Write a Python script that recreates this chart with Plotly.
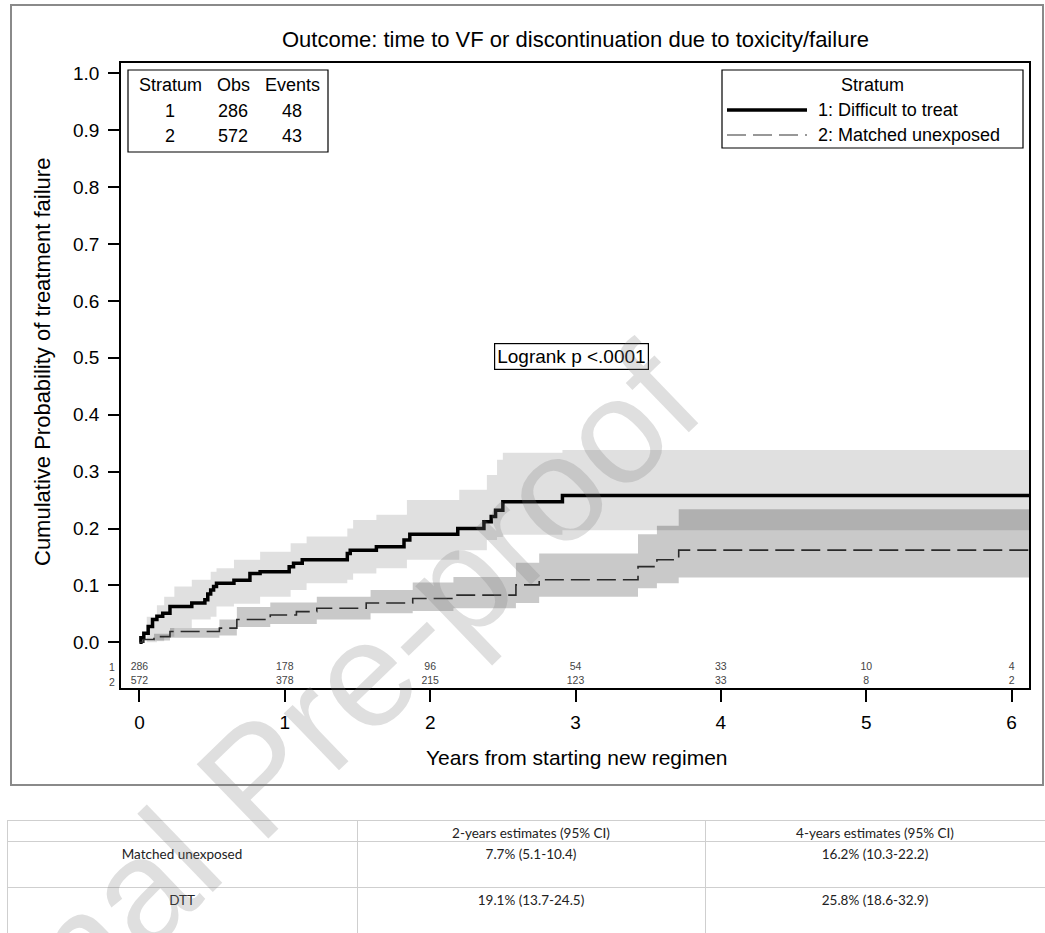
import plotly.graph_objects as go

# ---------------- data ----------------
# Stratum 1: Difficult to treat (cumulative probability of failure, step function)
g1_t = [0, 0.01, 0.03, 0.06, 0.09, 0.12, 0.16, 0.21, 0.36, 0.45, 0.47, 0.49, 0.51, 0.53,
        0.65, 0.76, 0.83, 1.03, 1.06, 1.12, 1.43, 1.45, 1.63, 1.82, 1.86, 2.19, 2.37,
        2.42, 2.45, 2.5, 2.91, 6.12]
g1_v = [0, 0.008, 0.016, 0.028, 0.040, 0.046, 0.051, 0.063, 0.069, 0.075, 0.085, 0.092,
        0.098, 0.104, 0.109, 0.121, 0.124, 0.133, 0.139, 0.145, 0.156, 0.162, 0.168,
        0.180, 0.190, 0.200, 0.212, 0.221, 0.232, 0.247, 0.258, 0.258]
g1_ci_t = [0, 0.05, 0.12, 0.17, 0.24, 0.36, 0.49, 0.53, 0.65, 0.83, 1.04, 1.15, 1.43,
           1.47, 1.63, 1.84, 2.2, 2.39, 2.46, 2.5, 2.91, 6.12]
g1_ci_hi = [0, 0.045, 0.065, 0.080, 0.098, 0.110, 0.124, 0.130, 0.145, 0.159, 0.174,
            0.186, 0.200, 0.215, 0.224, 0.250, 0.268, 0.294, 0.321, 0.333, 0.338, 0.338]
g1_ci_lo = [0, 0, 0.002, 0.010, 0.025, 0.040, 0.045, 0.063, 0.068, 0.080, 0.092, 0.104,
            0.110, 0.121, 0.130, 0.145, 0.162, 0.180, 0.185, 0.189, 0.197, 0.197]

# Stratum 2: Matched unexposed
g2_t = [0, 0.03, 0.1, 0.21, 0.55, 0.67, 0.9, 1.08, 1.22, 1.56, 1.88, 2.16, 2.59, 2.75,
        3.43, 3.56, 3.71, 6.12]
g2_v = [0, 0.005, 0.010, 0.019, 0.025, 0.040, 0.048, 0.054, 0.060, 0.069, 0.077, 0.083,
        0.101, 0.110, 0.133, 0.145, 0.162, 0.162]
g2_ci_t = [0, 0.1, 0.21, 0.55, 0.67, 0.9, 1.22, 1.59, 1.88, 2.16, 2.59, 2.75, 3.43, 3.56,
           3.71, 6.12]
g2_ci_hi = [0, 0.015, 0.025, 0.040, 0.062, 0.070, 0.080, 0.092, 0.105, 0.115, 0.140,
            0.156, 0.190, 0.205, 0.234, 0.234]
g2_ci_lo = [0, 0.003, 0.008, 0.012, 0.027, 0.032, 0.040, 0.051, 0.055, 0.060, 0.069,
            0.080, 0.095, 0.104, 0.114, 0.114]

# numbers at risk
risk_times = [0, 1, 2, 3, 4, 5, 6]
risk_g1 = [286, 178, 96, 54, 33, 10, 4]
risk_g2 = [572, 378, 215, 123, 33, 8, 2]

# summary inset
strata = ["1", "2"]
obs = [286, 572]
events = [48, 43]
legend_labels = ["1: Difficult to treat", "2: Matched unexposed"]

x_ticks = [0, 1, 2, 3, 4, 5, 6]
y_ticks = [0, 0.1, 0.2, 0.3, 0.4, 0.5, 0.6, 0.7, 0.8, 0.9, 1.0]

# estimate table
tbl_header = ["", "2-years estimates (95% CI)", "4-years estimates (95% CI)"]
tbl_groups = ["Matched unexposed", "DTT"]
tbl_2y = ["7.7% (5.1-10.4)", "19.1% (13.7-24.5)"]
tbl_4y = ["16.2% (10.3-22.2)", "25.8% (18.6-32.9)"]

# ---------------- layout helpers ----------------
W, H = 1045, 933
def px(x):
    return x / W
def py(y):
    return 1 - y / H

FONT = "Liberation Sans, Arial, sans-serif"
TFONT = "Lato, sans-serif"

fig = go.Figure()

# CI bands
fig.add_trace(go.Scatter(x=g1_ci_t, y=g1_ci_hi, mode="lines", line=dict(width=0, shape="hv"),
                         showlegend=False, hoverinfo="skip"))
fig.add_trace(go.Scatter(x=g1_ci_t, y=g1_ci_lo, mode="lines", line=dict(width=0, shape="hv"),
                         fill="tonexty", fillcolor="rgba(0,0,0,0.12)",
                         showlegend=False, hoverinfo="skip"))
fig.add_trace(go.Scatter(x=g2_ci_t, y=g2_ci_hi, mode="lines", line=dict(width=0, shape="hv"),
                         showlegend=False, hoverinfo="skip"))
fig.add_trace(go.Scatter(x=g2_ci_t, y=g2_ci_lo, mode="lines", line=dict(width=0, shape="hv"),
                         fill="tonexty", fillcolor="rgba(0,0,0,0.21)",
                         showlegend=False, hoverinfo="skip"))

# curves
fig.add_trace(go.Scatter(x=g1_t, y=g1_v, mode="lines", name=legend_labels[0],
                         line=dict(color="black", width=3.5, shape="hv"), showlegend=False))
fig.add_trace(go.Scatter(x=g2_t, y=g2_v, mode="lines", name=legend_labels[1],
                         line=dict(color="#2a2a2a", width=1.6, shape="hv", dash="19px,7px"),
                         showlegend=False))

# numbers at risk
fig.add_trace(go.Scatter(x=risk_times, y=[-0.044] * len(risk_times), mode="text",
                         text=[str(v) for v in risk_g1], textposition="middle center",
                         textfont=dict(size=10.5, color="#444", family=FONT),
                         cliponaxis=False, showlegend=False, hoverinfo="skip"))
fig.add_trace(go.Scatter(x=risk_times, y=[-0.069] * len(risk_times), mode="text",
                         text=[str(v) for v in risk_g2], textposition="middle center",
                         textfont=dict(size=10.5, color="#444", family=FONT),
                         cliponaxis=False, showlegend=False, hoverinfo="skip"))

# estimates table
fig.add_trace(go.Table(
    domain=dict(x=[px(7), 1.0], y=[0.0, py(820)]),
    columnwidth=[350, 348, 340],
    header=dict(values=tbl_header, height=21, align="center",
                line=dict(color="#cfcfcf", width=1), fill=dict(color="white"),
                font=dict(family=TFONT, size=13.5, color="#222")),
    cells=dict(values=[tbl_groups, tbl_2y, tbl_4y], height=46, align="center",
               line=dict(color="#cfcfcf", width=1), fill=dict(color="white"),
               font=dict(family=TFONT, size=13.5, color="#222")),
))

annotations = []
# title
annotations.append(dict(text="Outcome: time to VF or discontinuation due to toxicity/failure",
                        x=px(575), y=py(40), xref="paper", yref="paper", showarrow=False,
                        font=dict(size=22, family=FONT, color="black"),
                        xanchor="center", yanchor="middle"))
# axis titles
annotations.append(dict(text="Years from starting new regimen", x=px(577), y=py(757),
                        xref="paper", yref="paper", showarrow=False,
                        font=dict(size=21, family=FONT, color="black"),
                        xanchor="center", yanchor="middle"))
annotations.append(dict(text="Cumulative Probability of treatment failure", x=px(42), y=py(362),
                        xref="paper", yref="paper", showarrow=False, textangle=-90,
                        font=dict(size=22, family=FONT, color="black"),
                        xanchor="center", yanchor="middle"))
# at-risk row labels
for lbl, yy in zip(strata, [667, 682]):
    annotations.append(dict(text=lbl, x=px(112), y=py(yy), xref="paper", yref="paper",
                            showarrow=False, font=dict(size=10.5, family=FONT, color="#444"),
                            xanchor="center", yanchor="middle"))
# summary inset
cols_x = [170, 233, 292]
for cx, head in zip(cols_x, ["Stratum", "Obs", "Events"]):
    annotations.append(dict(text=head, x=px(cx), y=py(85), xref="paper", yref="paper",
                            showarrow=False, font=dict(size=18, family=FONT, color="black"),
                            xanchor="center", yanchor="middle"))
for i, (s, o, e) in enumerate(zip(strata, obs, events)):
    yy = 111 + i * 25
    for cx, val in zip(cols_x, [s, str(o), str(e)]):
        annotations.append(dict(text=val, x=px(cx), y=py(yy), xref="paper", yref="paper",
                                showarrow=False, font=dict(size=18, family=FONT, color="black"),
                                xanchor="center", yanchor="middle"))
# legend
annotations.append(dict(text="Stratum", x=px(872), y=py(85), xref="paper", yref="paper",
                        showarrow=False, font=dict(size=18, family=FONT, color="black"),
                        xanchor="center", yanchor="middle"))
for i, lab in enumerate(legend_labels):
    annotations.append(dict(text=lab, x=px(816), y=py(110 + i * 25), xref="paper", yref="paper",
                            showarrow=False, font=dict(size=18, family=FONT, color="black"),
                            xanchor="left", yanchor="middle"))
# logrank
annotations.append(dict(text="Logrank p <.0001", x=px(571), y=py(357), xref="paper", yref="paper",
                        showarrow=False, font=dict(size=19, family=FONT, color="black"),
                        xanchor="center", yanchor="middle", bordercolor="black",
                        borderwidth=1.2, borderpad=2, bgcolor="white"))
# watermark (runs off the lower-left edge, as in the reference)
annotations.append(dict(text="Journal Pre-proof", x=px(256), y=py(778), xref="paper", yref="paper",
                        showarrow=False, textangle=-44,
                        font=dict(size=150, family=FONT, color="rgba(120,120,120,0.24)"),
                        xanchor="center", yanchor="middle"))

shapes = [
    # outer frame
    dict(type="rect", xref="paper", yref="paper", x0=px(11), x1=px(1043), y0=py(785), y1=py(5),
         line=dict(color="#8a8a8a", width=2), layer="below"),
    # inset box
    dict(type="rect", xref="paper", yref="paper", x0=px(128), x1=px(328), y0=py(152), y1=py(70),
         line=dict(color="black", width=1.2)),
    # legend box
    dict(type="rect", xref="paper", yref="paper", x0=px(722), x1=px(1023), y0=py(148), y1=py(70),
         line=dict(color="black", width=1.2)),
    # legend samples
    dict(type="line", xref="paper", yref="paper", x0=px(727), x1=px(807), y0=py(110), y1=py(110),
         line=dict(color="black", width=3.5)),
    dict(type="line", xref="paper", yref="paper", x0=px(727), x1=px(807), y0=py(135), y1=py(135),
         line=dict(color="#777", width=1.6, dash="19px,7px")),
]

fig.update_layout(
    width=W, height=H, autosize=False,
    margin=dict(l=0, r=0, t=0, b=0),
    paper_bgcolor="white", plot_bgcolor="white",
    showlegend=False,
    font=dict(family=FONT, color="black"),
    xaxis=dict(domain=[px(121), px(1029.3)], range=[-0.127, 6.122],
               tickvals=x_ticks, ticktext=[str(v) for v in x_ticks],
               ticks="outside", ticklen=12, tickwidth=1.5, tickcolor="black",
               showline=True, linecolor="black", linewidth=1.5, mirror=True,
               showgrid=False, zeroline=False, ticklabelstandoff=4,
               tickfont=dict(size=19, family=FONT, color="black")),
    yaxis=dict(domain=[py(688.3), py(62.7)], range=[-0.0808, 1.0186],
               tickvals=y_ticks, ticktext=[f"{v:.1f}" for v in y_ticks],
               ticks="outside", ticklen=11, tickwidth=1.5, tickcolor="black",
               showline=True, linecolor="black", linewidth=1.5, mirror=True,
               showgrid=False, zeroline=False, ticklabelstandoff=5,
               tickfont=dict(size=19, family=FONT, color="black")),
    annotations=annotations,
    shapes=shapes,
)

fig.write_html("out.html",
               config={"displayModeBar": False},
               post_script="document.body.style.margin='0';document.body.style.padding='0';"
                           "document.body.style.overflow='hidden';")
